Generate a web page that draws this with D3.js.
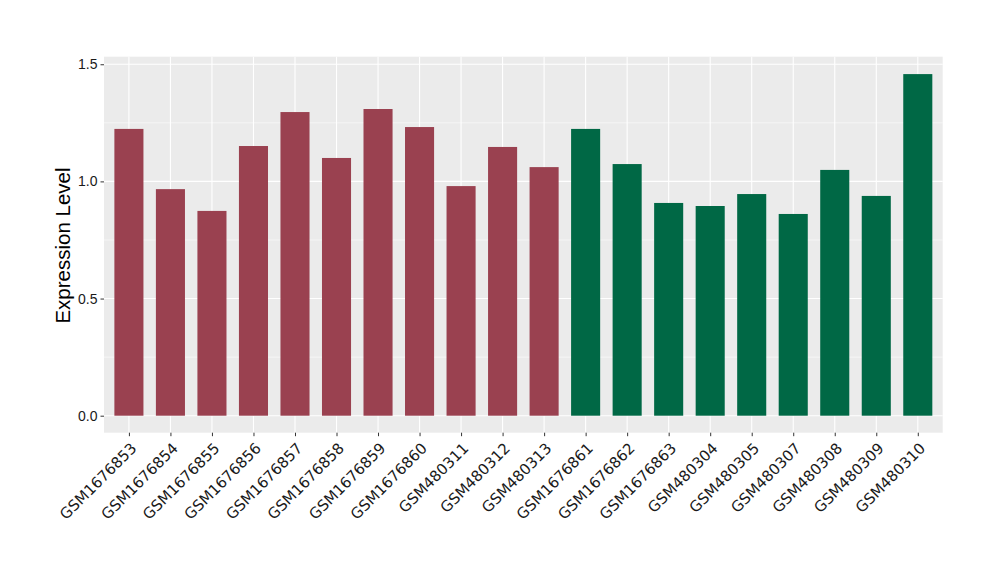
<!DOCTYPE html>
<html><head><meta charset="utf-8">
<script src="https://cdn.jsdelivr.net/npm/d3@7"></script>
<style>body{margin:0;background:#fff}svg{display:block}</style>
</head><body>
<svg id="c" width="1000" height="580"></svg>
<script>
const categories = ["GSM1676853","GSM1676854","GSM1676855","GSM1676856","GSM1676857","GSM1676858","GSM1676859","GSM1676860","GSM480311","GSM480312","GSM480313","GSM1676861","GSM1676862","GSM1676863","GSM480304","GSM480305","GSM480307","GSM480308","GSM480309","GSM480310"];
const values = [1.224,0.967,0.874,1.151,1.296,1.100,1.309,1.232,0.980,1.147,1.061,1.224,1.074,0.908,0.895,0.946,0.861,1.049,0.938,1.458];
const groups = ["A","A","A","A","A","A","A","A","A","A","A","B","B","B","B","B","B","B","B","B"];
const groupColors = {A:"#9a4150", B:"#006845"};
const yTicks = [0.0,0.5,1.0,1.5];
const yMinor = [0.25,0.75,1.25];

const svg = d3.select("#c");
const L=104, R=942.7, T=56.7, B=432.7;
const x = d3.scalePoint().domain(categories).range([L,R]).padding(0.6);
const y = d3.scaleLinear().domain([0,1]).range([415.7,415.7-234.3]);
const bw = x.step()*0.7;

svg.append("rect").attr("x",L).attr("y",T).attr("width",R-L).attr("height",B-T).attr("fill","#ebebeb");
svg.append("g").selectAll("line").data(yMinor).join("line")
  .attr("x1",L).attr("x2",R).attr("y1",d=>y(d)).attr("y2",d=>y(d)).attr("stroke","#fff").attr("stroke-width",0.55);
svg.append("g").selectAll("line").data(yTicks).join("line")
  .attr("x1",L).attr("x2",R).attr("y1",d=>y(d)).attr("y2",d=>y(d)).attr("stroke","#fff").attr("stroke-width",1.1);
svg.append("g").selectAll("line").data(categories).join("line")
  .attr("x1",d=>x(d)).attr("x2",d=>x(d)).attr("y1",T).attr("y2",B).attr("stroke","#fff").attr("stroke-width",1.1);

svg.append("g").selectAll("rect").data(categories).join("rect")
  .attr("x",d=>x(d)-bw/2).attr("width",bw)
  .attr("y",(d,i)=>y(values[i])).attr("height",(d,i)=>y(0)-y(values[i]))
  .attr("fill",(d,i)=>groupColors[groups[i]]);

// y axis
const ya = svg.append("g").attr("transform",`translate(${L},0)`)
  .call(d3.axisLeft(y).tickValues(yTicks).tickFormat(d3.format(".1f")).tickSize(3.5).tickPadding(3));
ya.select(".domain").remove();
ya.selectAll("line").attr("stroke","#333");
ya.selectAll("text").attr("font-size",14).attr("font-family","'Liberation Sans',Arial,sans-serif").attr("fill","#1a1a1a");

// x axis
const xa = svg.append("g").attr("transform",`translate(0,${B})`)
  .call(d3.axisBottom(x).tickSize(3.5).tickFormat(d=>d));
xa.select(".domain").remove();
xa.selectAll("line").attr("stroke","#333");
xa.selectAll("text").attr("font-size",15).attr("font-family","'DejaVu Sans',sans-serif").attr("fill","#1a1a1a")
  .attr("text-anchor","end").attr("dy",0).attr("y",0)
  .attr("transform","translate(8,16.5) rotate(-45)");

svg.append("text").attr("transform",`translate(70,245.5) rotate(-90)`)
  .attr("text-anchor","middle").attr("font-size",20.5).attr("font-family","'Liberation Sans',Arial,sans-serif")
  .attr("fill","#000").text("Expression Level");
</script>
</body></html>
